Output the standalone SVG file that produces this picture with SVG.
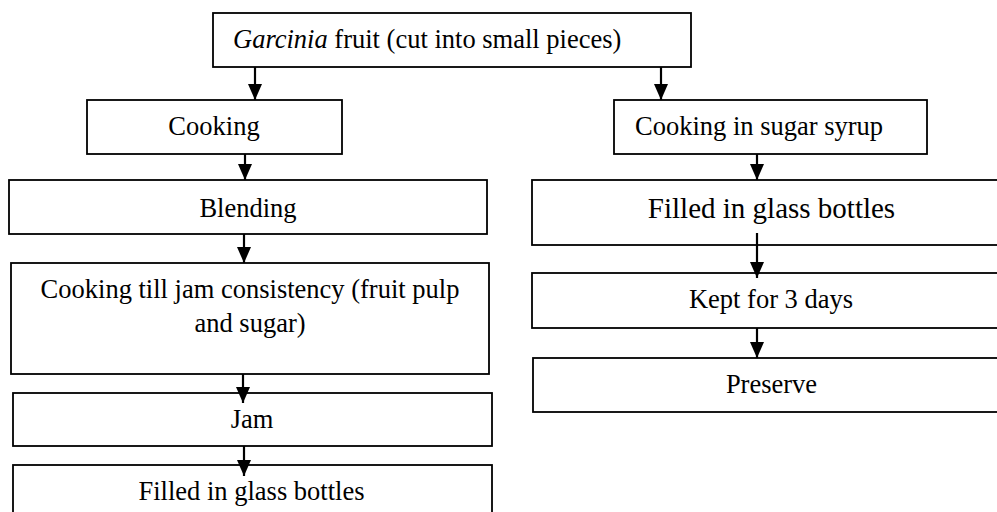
<svg xmlns="http://www.w3.org/2000/svg" width="997" height="512" viewBox="0 0 997 512">
<style>
.box{fill:#fff;stroke:#000;stroke-width:1.8}
.t{font-family:"Liberation Serif","Times New Roman",serif;font-size:26.5px;fill:#000}
.c{text-anchor:middle}
.big{font-size:29px}
.conn line{stroke:#000;stroke-width:2.2}
</style>
<defs>
<marker id="ah" markerUnits="userSpaceOnUse" markerWidth="16" markerHeight="14" refX="16" refY="7" orient="auto" viewBox="0 0 16 14">
<path d="M0,0 L16,7 L0,14 Z" fill="#000"/>
</marker>
</defs>
<rect width="997" height="512" fill="#fff"/>
<g id="n-top"><rect class="box" x="213" y="13" width="478" height="54"/>
<text class="t" x="233" y="48"><tspan font-style="italic">Garcinia</tspan> fruit (cut into small pieces)</text></g>
<g id="n-cooking"><rect class="box" x="87" y="100" width="255" height="54"/>
<text class="t c" x="214" y="135">Cooking</text></g>
<g id="n-blending"><rect class="box" x="9" y="180" width="478" height="54"/>
<text class="t c" x="248" y="217">Blending</text></g>
<g id="n-cookjam"><rect class="box" x="11" y="263" width="478" height="111"/>
<text class="t c" x="250" y="298">Cooking till jam consistency (fruit pulp</text>
<text class="t c" x="250" y="332">and sugar)</text></g>
<g id="n-jam"><rect class="box" x="13" y="393" width="479" height="53"/>
<text class="t c" x="252" y="428">Jam</text></g>
<g id="n-filled-left"><rect class="box" x="13" y="465" width="479" height="60"/>
<text class="t c" x="251.5" y="500">Filled in glass bottles</text></g>
<g id="n-syrup"><rect class="box" x="614" y="100" width="313" height="54"/>
<text class="t" x="635" y="135">Cooking in sugar syrup</text></g>
<g id="n-filled-right"><rect class="box" x="532" y="180" width="480" height="65"/>
<text class="t c big" x="771.5" y="218">Filled in glass bottles</text></g>
<g id="n-kept"><rect class="box" x="532" y="273" width="480" height="55"/>
<text class="t c" x="771" y="308">Kept for 3 days</text></g>
<g id="n-preserve"><rect class="box" x="533" y="358" width="480" height="54"/>
<text class="t c" x="771.5" y="393">Preserve</text></g>
<g id="connectors" class="conn">
<line x1="255" y1="67" x2="255" y2="100" marker-end="url(#ah)"/>
<line x1="661" y1="67" x2="661" y2="100" marker-end="url(#ah)"/>
<line x1="245" y1="154" x2="245" y2="180" marker-end="url(#ah)"/>
<line x1="244" y1="234" x2="244" y2="263" marker-end="url(#ah)"/>
<line x1="243" y1="374" x2="243" y2="403" marker-end="url(#ah)"/>
<line x1="244" y1="446" x2="244" y2="476" marker-end="url(#ah)"/>
<line x1="757" y1="154" x2="757" y2="180" marker-end="url(#ah)"/>
<line x1="757" y1="233" x2="757" y2="278" marker-end="url(#ah)"/>
<line x1="757" y1="328" x2="757" y2="358" marker-end="url(#ah)"/>
</g>
</svg>
